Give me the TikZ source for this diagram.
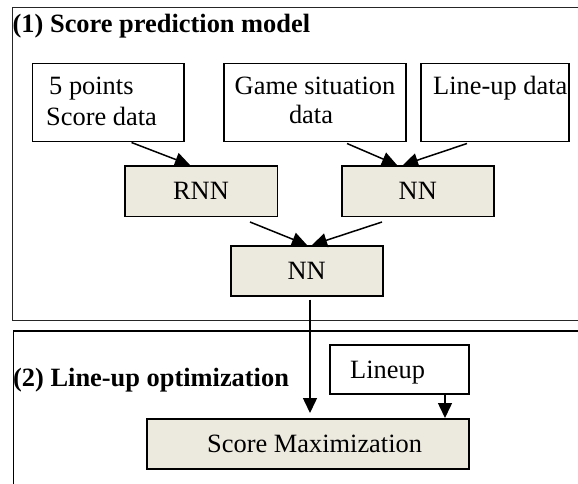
\documentclass[tikz,border=0pt]{standalone}
\usepackage{fontspec}
\setmainfont{Liberation Serif}
\usetikzlibrary{arrows.meta,calc}
\definecolor{boxfill}{RGB}{236,233,222}
\begin{document}
\begin{tikzpicture}[x=1pt,y=-1pt,
  every node/.style={font=\fontsize{26.4}{30}\selectfont},
  box/.style={draw=black,line width=1.5pt,inner sep=0pt,anchor=north west,fill=white},
  nnbox/.style={box,fill=boxfill},
  txt/.style={inner sep=0pt,anchor=base west},
  ttl/.style={txt,font=\fontsize{26.4}{30}\selectfont\bfseries},
  arr/.style={line width=1.5pt,-{Triangle[length=15pt,width=14pt]}},
  frame/.style={line width=1.2pt,draw=black!85}]
\useasboundingbox (0,0) rectangle (578,484);
\clip (0,0) rectangle (578,484);
% frames
\draw[frame] (590,7.5) -- (12.5,7.5) -- (12.5,320.5) -- (590,320.5);
\draw[line width=2pt] (590,331) -- (13.5,331);
\draw[line width=1.5pt] (13.5,330) -- (13.5,490);
% titles
\node[ttl] (t1) at (12.5,33) {(1) Score prediction model};
\node[ttl] (t2) at (13,386) {(2) Line-up optimization};
% input boxes
\node[box,minimum width=151.5pt,minimum height=78pt] (b5) at (31.5,63) {};
\node[box,minimum width=182pt,minimum height=78pt] (bgame) at (223,63) {};
\node[box,minimum width=148pt,minimum height=78pt] (bline) at (420,63) {};
\node[txt] (b5a) at (49,95) {5 points};
\node[txt] (b5b) at (46,125) {Score data};
\node[inner sep=0pt,anchor=base] (bga) at (315,95) {Game situation};
\node[inner sep=0pt,anchor=base] (bgb) at (311,124) {data};
\node[txt] (bla) at (433,95) {Line-up data};
% NN boxes
\node[nnbox,minimum width=152.5pt,minimum height=50.5pt] (rnn) at (124,165) {RNN};
\node[nnbox,minimum width=152pt,minimum height=50.5pt] (nn1) at (341,165) {NN};
\node[nnbox,minimum width=152pt,minimum height=50pt] (nn2) at (230,245) {NN};
% part 2
\node[box,minimum width=139pt,minimum height=49pt] (lu) at (329,344) {};
\node[txt] (lut) at (350,378) {Lineup};
\node[nnbox,minimum width=322pt,minimum height=50pt] (sm) at (146,418) {};
\node[txt] (smt) at (207,452) {Score Maximization};
% arrows
\draw[arr] ([xshift=100pt]b5.south west) -- ([xshift=66pt]rnn.north west);
\draw[arr] ([xshift=124pt,yshift=-1pt]bgame.south west) -- ([xshift=56pt]nn1.north west);
\draw[arr] ([xshift=47pt,yshift=-1pt]bline.south west) -- ([xshift=62pt]nn1.north west);
\draw[arr] ([xshift=126pt,yshift=-5pt]rnn.south west) -- ([xshift=77pt]nn2.north west);
\draw[arr] ([xshift=41pt,yshift=-5pt]nn1.south west) -- ([xshift=82pt]nn2.north west);
\draw[arr] ([xshift=80pt,yshift=-3pt]nn2.south west) -- ([xshift=164pt,yshift=5pt]sm.north west);
\draw[arr] ([xshift=116pt]lu.south west) -- ([xshift=299pt]sm.north west);
\end{tikzpicture}
\end{document}
